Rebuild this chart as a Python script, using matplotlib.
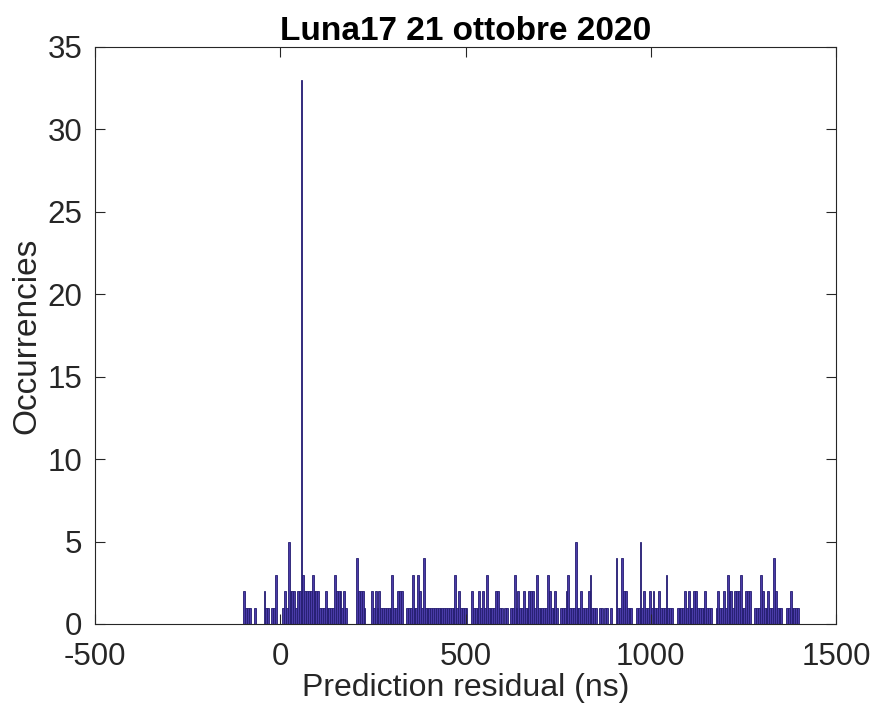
import matplotlib
matplotlib.use("Agg")
import matplotlib.pyplot as plt
import numpy as np

# Histogram of prediction residuals: 5 ns bins starting at -100 ns
bin_start = -100
bin_width = 5
counts = [
    2, 1, 1, 1, 0, 0, 1, 0, 0, 0,        # 0-9
    0, 2, 1, 1, 0, 1, 1, 3, 0, 0,        # 10-19
    0, 1, 2, 1, 5, 2, 2, 2, 1, 2,        # 20-29
    2, 33, 3, 2, 2, 2, 2, 3, 2, 2,       # 30-39
    2, 1, 1, 1, 2, 1, 1, 1, 1, 3,        # 40-49
    2, 2, 2, 1, 2, 1, 0, 0, 0, 0,        # 50-59
    0, 4, 2, 2, 2, 1, 0, 0, 0, 2,        # 60-69
    1, 2, 1, 2, 1, 1, 1, 1, 1, 1,        # 70-79
    3, 1, 1, 2, 2, 2, 0, 0, 1, 1,        # 80-89
    1, 3, 1, 1, 3, 2, 1, 4, 1, 1,        # 90-99
    1, 1, 1, 1, 1, 1, 1, 1, 1, 1,        # 100-109
    1, 1, 1, 1, 3, 1, 2, 1, 1, 1,        # 110-119
    1, 0, 0, 2, 1, 1, 1, 2, 1, 2,        # 120-129
    1, 3, 1, 1, 1, 1, 2, 2, 1, 1,        # 130-139
    0, 1, 1, 0, 1, 1, 3, 1, 2, 1,        # 140-149
    1, 2, 1, 1, 2, 2, 2, 1, 3, 1,        # 150-159
    1, 1, 1, 1, 3, 2, 1, 1, 2, 1,        # 160-169
    0, 1, 1, 1, 2, 3, 1, 1, 1, 5,        # 170-179
    1, 1, 2, 1, 1, 1, 2, 3, 1, 1,        # 180-189
    1, 0, 1, 1, 0, 1, 1, 0, 1, 0,        # 190-199
    0, 4, 1, 1, 4, 2, 2, 1, 1, 1,        # 200-209
    0, 0, 1, 1, 5, 1, 2, 1, 1, 2,        # 210-219
    1, 2, 1, 1, 2, 1, 1, 1, 3, 1,        # 220-229
    1, 1, 0, 0, 1, 1, 1, 1, 2, 1,        # 230-239
    2, 1, 1, 2, 2, 1, 1, 1, 1, 2,        # 240-249
    1, 1, 1, 0, 0, 1, 2, 1, 1, 2,        # 250-259
    1, 3, 2, 2, 1, 2, 2, 2, 3, 1,        # 260-269
    1, 2, 2, 2, 0, 0, 1, 1, 1, 3,        # 270-279
    2, 1, 1, 2, 1, 1, 4, 2, 1, 1,        # 280-289
    1, 0, 0, 1, 1, 2, 1, 1, 1, 1,        # 290-299
]
edges = bin_start + bin_width * np.arange(len(counts))

title = "Luna17 21 ottobre 2020"
xlabel = "Prediction residual (ns)"
ylabel = "Occurrencies"
xticks = [-500, 0, 500, 1000, 1500]
yticks = [0, 5, 10, 15, 20, 25, 30, 35]

plt.rcParams['font.family'] = ['Liberation Sans', 'DejaVu Sans']

fig = plt.figure(figsize=(8.75, 7.12), dpi=100)
ax = fig.add_axes([0.1086, 0.1236, 0.8468, 0.8104])

ax.bar(edges, counts, width=bin_width, align='edge',
       facecolor='#4a3ba8', edgecolor='#241c70', linewidth=0.6)

ax.set_xlim(-500, 1500)
ax.set_ylim(0, 35)
ax.set_xticks(xticks)
ax.set_yticks(yticks)
ax.set_xticklabels([str(t) for t in xticks])
ax.tick_params(direction='in', length=7, width=0.8, labelsize=22.5,
               top=True, right=True, colors='#262626')
ax.tick_params(axis='x', pad=13)
ax.tick_params(axis='y', pad=9)
for s in ax.spines.values():
    s.set_linewidth(0.8)
    s.set_color('#262626')

ax.set_xlabel(xlabel, fontsize=23, color='#262626', labelpad=1)
ax.set_ylabel(ylabel, fontsize=24, color='#262626', labelpad=4)
ax.set_title(title, fontsize=24, fontweight='bold', pad=5)

fig.savefig("out.png", dpi=100)
